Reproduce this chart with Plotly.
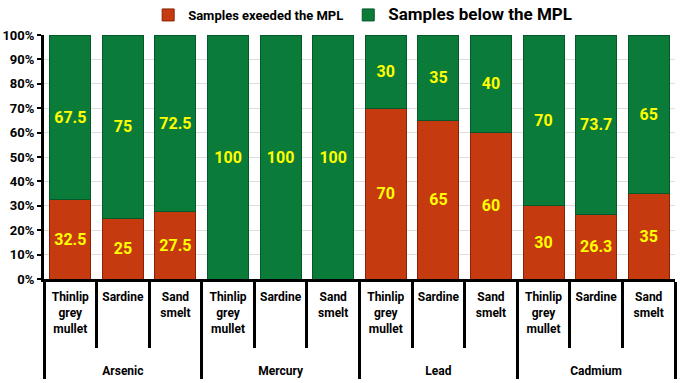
import plotly.graph_objects as go

metals = ["Arsenic"] * 3 + ["Mercury"] * 3 + ["Lead"] * 3 + ["Cadmium"] * 3
species = ["Thinlip<br>grey<br>mullet", "Sardine", "Sand<br>smelt"] * 4
exceeded = [32.5, 25, 27.5, 0, 0, 0, 70, 65, 60, 30, 26.3, 35]
below = [67.5, 75, 72.5, 100, 100, 100, 30, 35, 40, 70, 73.7, 65]
y_ticks = list(range(0, 101, 10))
y_ticktext = ["%d%%" % v for v in y_ticks]

# group labels pushed below the three-line species labels
metal_labels = ["<br><br>" + m for m in metals]

FONT = "Roboto, Liberation Sans, sans-serif"

def lab(v):
    return "" if v == 0 else ("%g" % v)

fig = go.Figure()
fig.add_trace(go.Bar(
    x=[metal_labels, species], y=exceeded, name="Samples exeeded the MPL",
    marker=dict(color="#c63a0f", line=dict(color="#8a2205", width=1)),
    text=[lab(v) for v in exceeded], textposition="inside", insidetextanchor="middle",
    textangle=0, textfont=dict(color="#ffff00", size=16, family=FONT, weight="bold"),
))
fig.add_trace(go.Bar(
    x=[metal_labels, species], y=below,
    name="<span style='font-size:17px'>Samples below the MPL</span>",
    marker=dict(color="#0b7b3a", line=dict(color="#05582a", width=1)),
    text=[lab(v) for v in below], textposition="inside", insidetextanchor="middle",
    textangle=0, textfont=dict(color="#ffff00", size=16, family=FONT, weight="bold"),
))

fig.update_layout(
    barmode="stack", bargap=0.22,
    width=685, height=383,
    margin=dict(l=44, r=10, t=35, b=104),
    plot_bgcolor="white", paper_bgcolor="white",
    font=dict(family=FONT, color="black", size=13, weight="bold"),
    uniformtext=dict(mode="show", minsize=10),
    legend=dict(orientation="h", x=0.505, xanchor="center", yref="container",
                y=1.0, yanchor="top",
                font=dict(size=13, family=FONT, color="black", weight="bold"),
                traceorder="normal", itemwidth=30),
)
fig.update_yaxes(
    range=[0, 100], tickvals=y_ticks, ticktext=y_ticktext, automargin=False,
    showline=True, linecolor="black", linewidth=3,
    ticks="outside", ticklen=4, tickwidth=2, tickcolor="black",
    showgrid=True, gridcolor="#dddddd", gridwidth=1,
    tickfont=dict(size=13, family=FONT, color="black", weight="bold"),
    zeroline=False,
)
fig.update_xaxes(
    type="multicategory", tickangle=0, automargin=False,
    showline=True, linecolor="black", linewidth=3,
    ticks="outside", tickson="boundaries", ticklen=66, tickwidth=3, tickcolor="black",
    ticklabelstandoff=5,
    showdividers=True, dividercolor="black", dividerwidth=3,
    tickfont=dict(size=12, family=FONT, color="black", weight="bold"),
)

fig.write_html("out.html", post_script="document.body.style.margin='0px';",
               config={"displayModeBar": False})
